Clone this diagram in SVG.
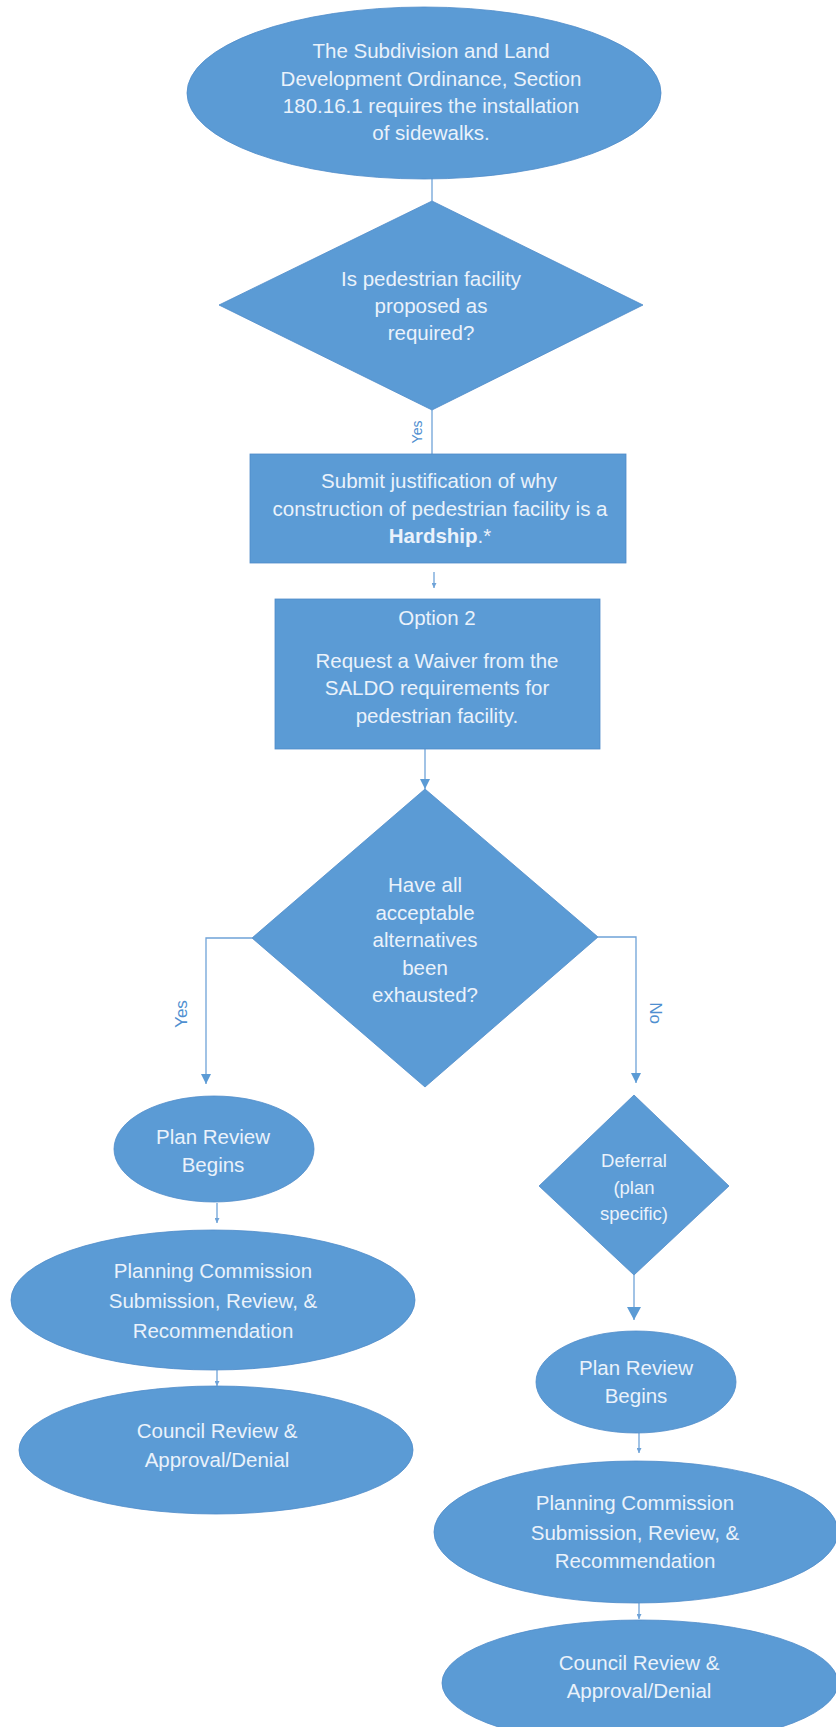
<svg xmlns="http://www.w3.org/2000/svg" width="836" height="1727" viewBox="0 0 836 1727">
<style>
.shape{fill:#5B9BD5;stroke:#4F8BC9;stroke-width:0.8}
.t{font-family:"Liberation Sans",Arial,sans-serif;font-size:20.5px;fill:#EAF2FB;text-anchor:middle}
.ts{font-size:18.5px}
.b{font-weight:bold}
.conn{fill:none;stroke:#6FA3D8;stroke-width:1.3}
.lbl{font-family:"Liberation Sans",Arial,sans-serif;fill:#4F8FD0;text-anchor:middle}
</style>
<defs>
<marker id="arrM" markerUnits="userSpaceOnUse" markerWidth="10" markerHeight="10" refX="10" refY="5" orient="auto"><path d="M0,0 L10,5 L0,10 Z" fill="#5B9BD5"/></marker>
<marker id="arrL" markerUnits="userSpaceOnUse" markerWidth="14" markerHeight="14" refX="13" refY="7" orient="auto"><path d="M0,0 L13,7 L0,14 Z" fill="#5B9BD5"/></marker>
<marker id="arrS" markerUnits="userSpaceOnUse" markerWidth="5" markerHeight="5" refX="5" refY="2.5" orient="auto"><path d="M0,0 L5,2.5 L0,5 Z" fill="#6FA3D8"/></marker>
</defs>
<rect width="836" height="1727" fill="#FFFFFF"/>

<g id="connectors">
<line class="conn" x1="432" y1="178" x2="432" y2="201"/>
<line class="conn" x1="432" y1="410" x2="432" y2="454"/>
<text class="lbl" font-size="14" transform="translate(422,432) rotate(-90)">Yes</text>
<line class="conn" x1="434" y1="572" x2="434" y2="588" marker-end="url(#arrS)"/>
<line class="conn" x1="425" y1="749" x2="425" y2="789" marker-end="url(#arrM)"/>
<polyline class="conn" points="252,938 206,938 206,1084" marker-end="url(#arrM)"/>
<text class="lbl" font-size="17" transform="translate(187,1014) rotate(-90)">Yes</text>
<polyline class="conn" points="598,937 636,937 636,1083" marker-end="url(#arrM)"/>
<text class="lbl" font-size="17" transform="translate(650,1013) rotate(90)">No</text>
<line class="conn" x1="634" y1="1275" x2="634" y2="1320" marker-end="url(#arrL)"/>
<line class="conn" x1="217" y1="1203" x2="217" y2="1223" marker-end="url(#arrS)"/>
<line class="conn" x1="217" y1="1370" x2="217" y2="1386" marker-end="url(#arrS)"/>
<line class="conn" x1="639" y1="1433" x2="639" y2="1453" marker-end="url(#arrS)"/>
<line class="conn" x1="639" y1="1603" x2="639" y2="1619" marker-end="url(#arrS)"/>
</g>

<g id="start">
<ellipse class="shape" cx="424" cy="93" rx="237" ry="86"/>
<text class="t" x="431" y="58">The Subdivision and Land</text>
<text class="t" x="431" y="86">Development Ordinance, Section</text>
<text class="t" x="431" y="113">180.16.1 requires the installation</text>
<text class="t" x="431" y="140">of sidewalks.</text>
</g>

<g id="decision1">
<polygon class="shape" points="432,201 643,305 432,410 219,305"/>
<text class="t" x="431" y="286">Is pedestrian facility</text>
<text class="t" x="431" y="313">proposed as</text>
<text class="t" x="431" y="340">required?</text>
</g>

<g id="hardship">
<rect class="shape" x="250" y="454" width="376" height="109"/>
<text class="t" x="439" y="488">Submit justification of why</text>
<text class="t" x="440" y="516">construction of pedestrian facility is a</text>
<text class="t" x="440" y="543"><tspan class="b">Hardship</tspan>.*</text>
</g>

<g id="option2">
<rect class="shape" x="275" y="599" width="325" height="150"/>
<text class="t" x="437" y="625">Option 2</text>
<text class="t" x="437" y="668">Request a Waiver from the</text>
<text class="t" x="437" y="695">SALDO requirements for</text>
<text class="t" x="437" y="723">pedestrian facility.</text>
</g>

<g id="decision2">
<polygon class="shape" points="425,789 598,937 425,1087 252,938"/>
<text class="t" x="425" y="892">Have all</text>
<text class="t" x="425" y="919.5">acceptable</text>
<text class="t" x="425" y="947">alternatives</text>
<text class="t" x="425" y="974.5">been</text>
<text class="t" x="425" y="1002">exhausted?</text>
</g>

<g id="planReviewLeft">
<ellipse class="shape" cx="214" cy="1149" rx="100" ry="53"/>
<text class="t" x="213" y="1144">Plan Review</text>
<text class="t" x="213" y="1172">Begins</text>
</g>

<g id="planningCommissionLeft">
<ellipse class="shape" cx="213" cy="1300" rx="202" ry="70"/>
<text class="t" x="213" y="1278">Planning Commission</text>
<text class="t" x="213" y="1308">Submission, Review, &amp;</text>
<text class="t" x="213" y="1338">Recommendation</text>
</g>

<g id="councilLeft">
<ellipse class="shape" cx="216" cy="1450" rx="197" ry="64"/>
<text class="t" x="217" y="1438">Council Review &amp;</text>
<text class="t" x="217" y="1467">Approval/Denial</text>
</g>

<g id="deferral">
<polygon class="shape" points="634,1095 729,1186 634,1275 539,1186"/>
<text class="t ts" x="634" y="1167">Deferral</text>
<text class="t ts" x="634" y="1194">(plan</text>
<text class="t ts" x="634" y="1220">specific)</text>
</g>

<g id="planReviewRight">
<ellipse class="shape" cx="636" cy="1382" rx="100" ry="51"/>
<text class="t" x="636" y="1375">Plan Review</text>
<text class="t" x="636" y="1403">Begins</text>
</g>

<g id="planningCommissionRight">
<ellipse class="shape" cx="636" cy="1532" rx="202" ry="71"/>
<text class="t" x="635" y="1510">Planning Commission</text>
<text class="t" x="635" y="1540">Submission, Review, &amp;</text>
<text class="t" x="635" y="1568">Recommendation</text>
</g>

<g id="councilRight">
<ellipse class="shape" cx="640" cy="1683" rx="198" ry="63"/>
<text class="t" x="639" y="1670">Council Review &amp;</text>
<text class="t" x="639" y="1698">Approval/Denial</text>
</g>
</svg>
